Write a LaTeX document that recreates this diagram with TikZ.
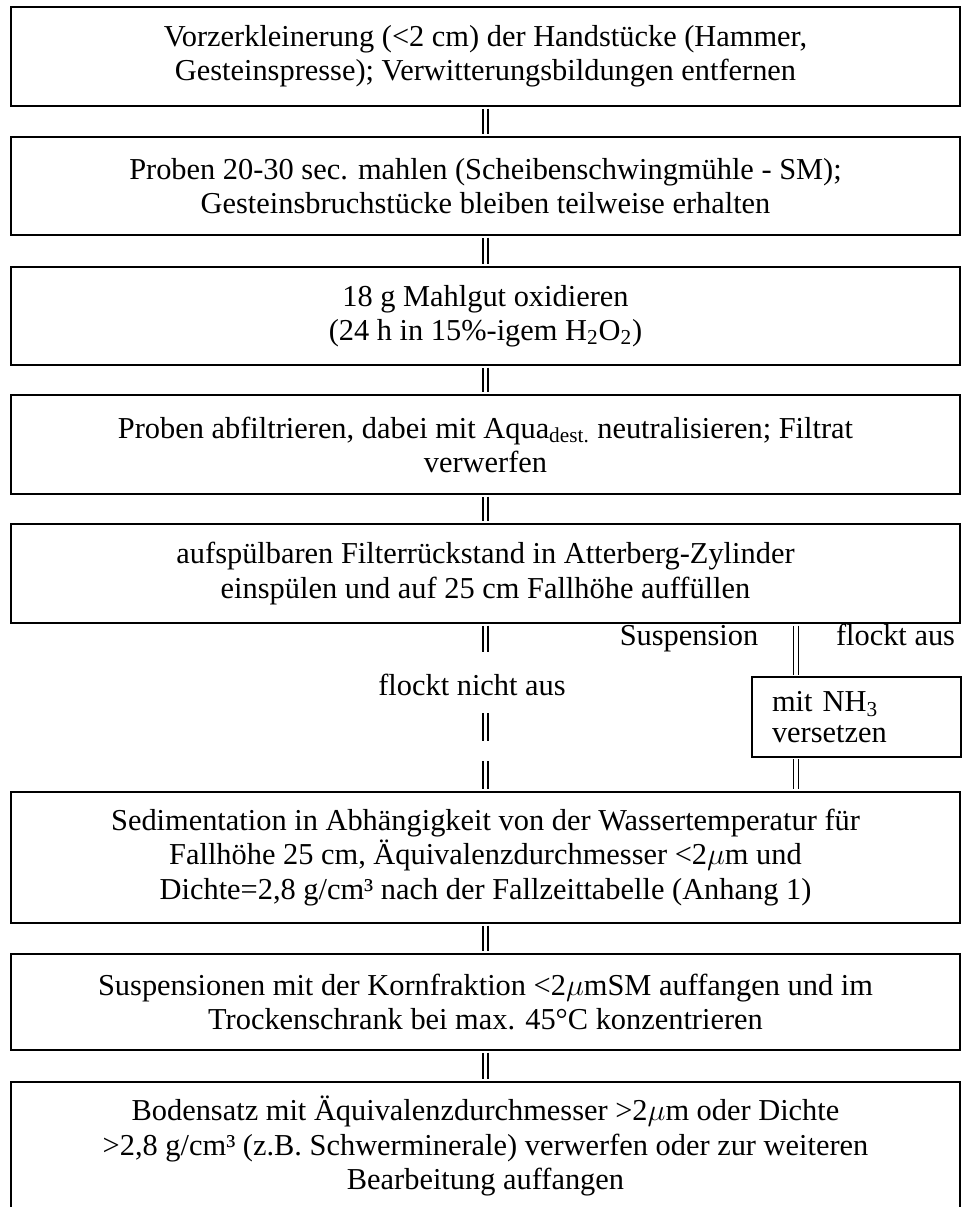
\documentclass[tikz,border=0pt]{standalone}
\usepackage{fontspec}
\setmainfont{Liberation Serif}

\begin{document}
\begin{tikzpicture}[
  x=0.02cm, y=-0.02cm,
  procbox/.style={rectangle, draw=black, line width=1.6pt, minimum width=18.98cm,
                  align=center, inner sep=0pt, font=\fontsize{17.3pt}{19.4pt}\selectfont},
  sidebox/.style={rectangle, draw=black, line width=1.3pt, minimum width=4.18cm,
                  minimum height=1.6cm, text width=3.38cm, inner xsep=0.4cm, align=left,
                  font=\fontsize{17.3pt}{17.5pt}\selectfont},
  lbl/.style={anchor=base, inner sep=0pt, font=\fontsize{17.3pt}{19.4pt}\selectfont},
  conn/.style={draw=black, line width=0.8pt, double=white, double distance=1.9pt,
               shorten <=0.7pt, shorten >=0.7pt}
]
\fill[white] (0,0) rectangle (963,1207);
\useasboundingbox (0,0) rectangle (963,1207);

\node[procbox, minimum height=1.98cm] (b1) at (485.5,56.5)  {Vorzerkleinerung (<2 cm) der Handstücke (Hammer,\\Gesteinspresse); Verwitterungsbildungen entfernen};
\node[procbox, minimum height=1.96cm] (b2) at (485.5,186)   {Proben 20-30 sec. mahlen (Scheibenschwingmühle - SM);\\Gesteinsbruchstücke bleiben teilweise erhalten};
\node[procbox, minimum height=1.96cm] (b3) at (485.5,316)   {18 g Mahlgut oxidieren\\(24 h in 15\%-igem H\textsubscript{2}O\textsubscript{2})};
\node[procbox, minimum height=1.98cm] (b4) at (485.5,444.5) {Proben abfiltrieren, dabei mit Aqua\textsubscript{dest.} neutralisieren; Filtrat\\verwerfen};
\node[procbox, minimum height=1.98cm] (b5) at (485.5,573.5) {aufspülbaren Filterrückstand in Atterberg-Zylinder\\einspülen und auf 25 cm Fallhöhe auffüllen};
\node[procbox, minimum height=2.62cm] (b6) at (485.5,857.5) {Sedimentation in Abhängigkeit von der Wassertemperatur für\\Fallhöhe 25 cm, Äquivalenzdurchmesser <2$\mu$m und\\Dichte=2,8 g/cm³ nach der Fallzeittabelle (Anhang 1)};
\node[procbox, minimum height=1.92cm] (b7) at (485.5,1002)  {Suspensionen mit der Kornfraktion <2$\mu$mSM auffangen und im\\Trockenschrank bei max. 45°C konzentrieren};
\node[procbox, minimum height=2.56cm] (b8) at (485.5,1146)  {Bodensatz mit Äquivalenzdurchmesser >2$\mu$m oder Dichte\\>2,8 g/cm³ (z.B. Schwerminerale) verwerfen oder zur weiteren\\Bearbeitung auffangen};

\node[sidebox] (nh3) at (856.5,717) {mit NH\textsubscript{3}\\versetzen};

\node[lbl] (susp) at (689,645)   {Suspension};
\node[lbl] (flja) at (895.5,645) {flockt aus};
\node[lbl] (flno) at (472,695)   {flockt nicht aus};

\coordinate (rx) at (796,0);
\coordinate (l1) at (485.5,653);
\coordinate (l2) at (485.5,712);
\coordinate (l3) at (485.5,742);
\coordinate (l4) at (485.5,760);

\draw[conn] (b1) -- (b2);
\draw[conn] (b2) -- (b3);
\draw[conn] (b3) -- (b4);
\draw[conn] (b4) -- (b5);
\draw[conn] (b5.south) -- (l1);
\draw[conn] (l2) -- (l3);
\draw[conn] (l4) -- (b6.north);
\draw[conn] (b5.south -| rx) -- (nh3.north -| rx);
\draw[conn] (nh3.south -| rx) -- (b6.north -| rx);
\draw[conn] (b6) -- (b7);
\draw[conn] (b7) -- (b8);
\end{tikzpicture}
\end{document}
